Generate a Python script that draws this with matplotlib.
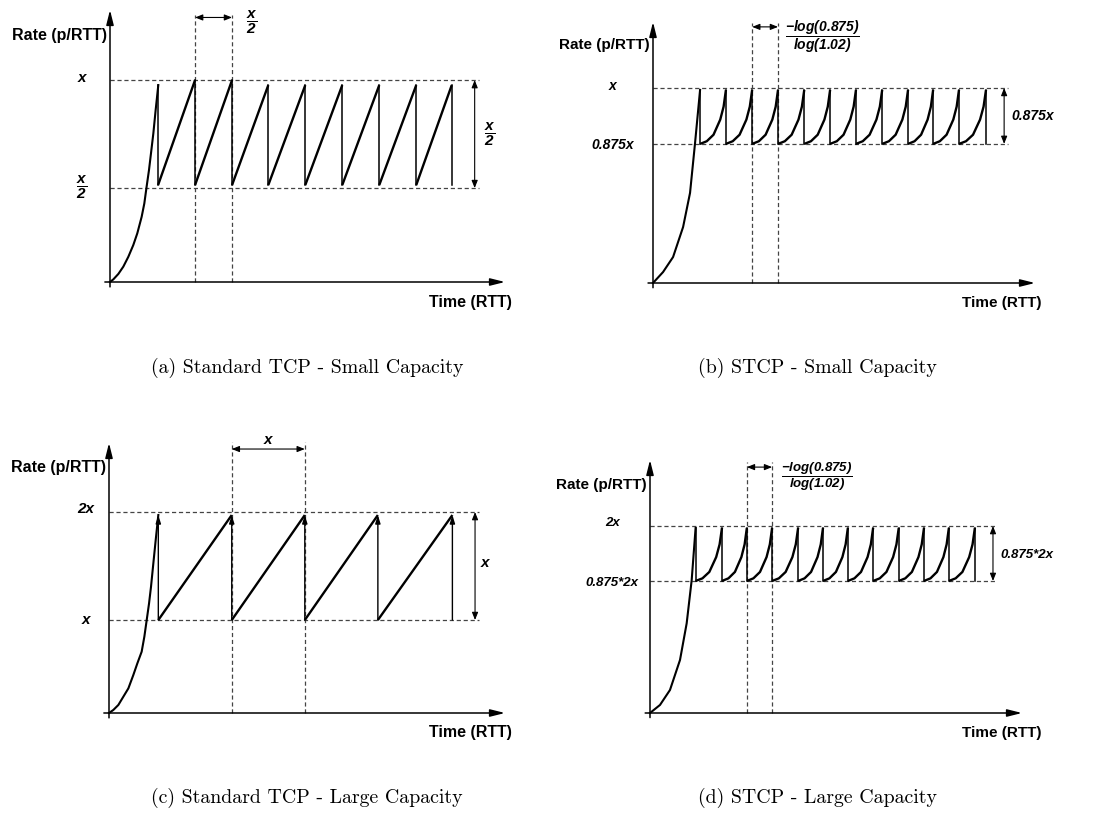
import matplotlib
matplotlib.use("Agg")
import matplotlib.pyplot as plt

plt.rcParams["font.family"] = "sans-serif"
plt.rcParams["font.sans-serif"] = ["Liberation Sans", "DejaVu Sans"]
plt.rcParams["mathtext.fontset"] = "custom"
plt.rcParams["mathtext.rm"] = "Liberation Sans:bold:italic"
plt.rcParams["mathtext.it"] = "Liberation Sans:bold:italic"
plt.rcParams["mathtext.bf"] = "Liberation Sans:bold:italic"
plt.rcParams["lines.scale_dashes"] = False

# time in RTT-like units, rate in units of x (schematic)
# (a) Standard TCP - small capacity
A_SS_T = [0, 0.045, 0.113, 0.180, 0.248, 0.315, 0.369, 0.428, 0.464, 0.495, 0.527, 0.554, 0.586, 0.617, 0.653]
A_SS_R = [0, 0.013, 0.040, 0.076, 0.125, 0.183, 0.241, 0.323, 0.389, 0.472, 0.554, 0.637, 0.736, 0.851, 0.975]
A_DROP_T = [0.65, 1.15, 1.65, 2.14, 2.64, 3.14, 3.64, 4.14, 4.62]
A_PEAK_R = [0.975, 1.0, 1.0, 0.975, 0.975, 0.975, 0.975, 0.975, 0.975]
A_TROUGH = 0.48
A_LEVELS = [1.0, 0.465]
A_MARK_T = [1.15, 1.65]

# (b) STCP - small capacity
B_SS_T = [0, 2.6, 5.2, 7.8, 9.6, 10.9, 12.2]
B_SS_R = [0, 0.056, 0.133, 0.287, 0.462, 0.718, 0.99]
B_DROP_T = [12.2, 18.9, 25.7, 32.4, 39.2, 45.9, 52.6, 59.4, 66.1, 72.6, 79.3, 86.3]
B_PEAK_R = [0.99] * 12
B_TROUGH = 0.713
B_LEVELS = [1.0, 0.713]
B_MARK_T = [25.7, 32.4]

# (c) Standard TCP - large capacity
C_SS_T = [0, 0.059, 0.128, 0.196, 0.265, 0.333, 0.388, 0.447, 0.484, 0.516, 0.548, 0.575, 0.607, 0.639, 0.675]
C_SS_R = [0, 0.03, 0.08, 0.162, 0.245, 0.378, 0.494, 0.61, 0.76, 0.925, 1.09, 1.257, 1.49, 1.72, 1.97]
C_DROP_T = [0.675, 1.68, 2.68, 3.68, 4.70]
C_PEAK_R = [1.97, 1.97, 1.97, 1.97, 1.97]
C_TROUGH = 0.925
C_LEVELS = [2.0, 0.925]
C_MARK_T = [1.68, 2.68]

# (d) STCP - large capacity
D_SS_T = [0, 2.65, 5.3, 7.96, 9.73, 11.06, 12.1]
D_SS_R = [0, 0.086, 0.246, 0.567, 0.959, 1.422, 1.98]
D_DROP_T = [12.1, 19.1, 25.7, 32.4, 39.3, 45.9, 52.5, 59.2, 66.0, 72.7, 79.3, 86.2]
D_PEAK_R = [1.98] * 12
D_TROUGH = 1.412
D_LEVELS = [2.0, 1.412]
D_MARK_T = [25.7, 32.4]

# shape of one tooth (fraction of period, fraction of height)
LINEAR_U = [0, 1]
LINEAR_V = [0, 1]
STCP_U = [0, 0.26, 0.52, 0.78, 0.91, 1.0]
STCP_V = [0, 0.05, 0.17, 0.45, 0.69, 1.0]

FRAC_X2 = r"$\dfrac{x}{2}$"
FRAC_LOG = r"$\dfrac{-log(0.875)}{log(1.02)}$"

A_TICKS = ["x", FRAC_X2]
B_TICKS = ["x", "0.875x"]
C_TICKS = ["2x", "x"]
D_TICKS = ["2x", "0.875*2x"]

CAPTIONS = [
    "(a) Standard TCP - Small Capacity",
    "(b) STCP - Small Capacity",
    "(c) Standard TCP - Large Capacity",
    "(d) STCP - Large Capacity",
]

W, H = 1094, 817
DASH = dict(color="#444444", lw=0.9, dashes=(3.0, 2.0))


def make_axes(fig, left, top, right, bottom, xmax, ymax):
    ax = fig.add_axes([left / W, 1 - bottom / H, (right - left) / W, (bottom - top) / H])
    ax.set_xlim(0, xmax)
    ax.set_ylim(0, ymax)
    ax.set_axis_off()
    return ax


def arrow(ax, p0, p1, style, scale, lw):
    ax.annotate("", xy=p1, xytext=p0, annotation_clip=False,
                arrowprops=dict(arrowstyle=style, mutation_scale=scale, lw=lw,
                                color="black", shrinkA=0, shrinkB=0))


def draw_panel(ax, p):
    xmax, ymax = ax.get_xlim()[1], ax.get_ylim()[1]

    # axes with arrow heads
    arrow(ax, (0, -0.018 * ymax), (0, ymax), "-|>,head_length=0.8,head_width=0.2", 11, 1.1)
    arrow(ax, (-0.013 * xmax, 0), (xmax, 0), "-|>,head_length=0.8,head_width=0.2", 11, 1.1)

    # reference levels
    for lvl in p["levels"]:
        ax.plot([0, p["level_end"]], [lvl, lvl], clip_on=False, **DASH)
    for t in p["mark_t"]:
        ax.plot([t, t], [0, p["mark_top"]], clip_on=False, **DASH)

    # slow start
    ax.plot(p["ss_t"], p["ss_r"], color="black", lw=1.5, clip_on=False)

    # teeth
    drops, peaks, trough = p["drop_t"], p["peak_r"], p["trough"]
    for k, t in enumerate(drops):
        if p.get("drop_arrows"):
            arrow(ax, (t, trough), (t, peaks[k]), "-|>,head_length=0.8,head_width=0.25", 6, 1.0)
        else:
            ax.plot([t, t], [peaks[k], trough], color="black", lw=1.1)
        if k + 1 < len(drops):
            t1 = drops[k + 1]
            xs = [t + u * (t1 - t) for u in p["shape_u"]]
            ys = [trough + v * (peaks[k + 1] - trough) for v in p["shape_v"]]
            ax.plot(xs, ys, color="black", lw=1.7, solid_capstyle="butt")

    # dimension arrows
    dim_style = "<|-|>,head_length=0.5,head_width=0.2"
    arrow(ax, (p["mark_t"][0], p["mark_arrow"]), (p["mark_t"][1], p["mark_arrow"]), dim_style, 9, 0.8)
    arrow(ax, (p["dim_t"], p["levels"][1]), (p["dim_t"], p["levels"][0]), dim_style, 9, 0.8)

    bi = dict(fontweight="bold", fontstyle="italic", ha="center", va="center")
    ax.text(p["mark_label"][0], p["mark_label"][1], p["mark_text"], fontsize=p["frac_fs"], clip_on=False, **bi)
    ax.text(p["dim_label"][0], p["dim_label"][1], p["dim_text"], fontsize=p["tick_fs"], clip_on=False, **bi)

    for lvl, txt, (dx, dy) in zip(p["levels"], p["ticks"], p["tick_off"]):
        ax.annotate(txt, xy=(0, lvl), xytext=(dx, dy), textcoords="offset pixels",
                    fontsize=p["tick_fs"], annotation_clip=False, **bi)

    ax.annotate("Rate (p/RTT)", xy=(0, p["rate_y"]), xytext=(-3, 0), textcoords="offset pixels",
                ha="right", va="center", fontweight="bold", fontsize=p["label_fs"], annotation_clip=False)
    ax.annotate("Time (RTT)", xy=(xmax, 0), xytext=(p["time_dx"], -20), textcoords="offset pixels",
                ha="right", va="center", fontweight="bold", fontsize=p["label_fs"], annotation_clip=False)


fig = plt.figure(figsize=(W / 100, H / 100), dpi=100)
fig.patch.set_facecolor("white")

panels = [
    (make_axes(fig, 110, 10, 505, 282, 5.34, 1.347), dict(
        ss_t=A_SS_T, ss_r=A_SS_R, drop_t=A_DROP_T, peak_r=A_PEAK_R, trough=A_TROUGH,
        levels=A_LEVELS, mark_t=A_MARK_T, shape_u=LINEAR_U, shape_v=LINEAR_V,
        level_end=4.99, mark_top=1.32, mark_arrow=1.31, dim_t=4.93,
        mark_label=(1.92, 1.285), mark_text=FRAC_X2, dim_label=(5.14, 0.73), dim_text=FRAC_X2,
        ticks=A_TICKS, tick_off=[(-28, 2), (-28, 0)],
        rate_y=1.223, time_dx=7, label_fs=11.5, tick_fs=11, frac_fs=11)),
    (make_axes(fig, 653, 22, 1035, 283, 99.0, 1.338), dict(
        ss_t=B_SS_T, ss_r=B_SS_R, drop_t=B_DROP_T, peak_r=B_PEAK_R, trough=B_TROUGH,
        levels=B_LEVELS, mark_t=B_MARK_T, shape_u=STCP_U, shape_v=STCP_V,
        level_end=92.0, mark_top=1.333, mark_arrow=1.313, dim_t=91.0,
        mark_label=(43.8, 1.262), mark_text=FRAC_LOG, dim_label=(98.5, 0.856), dim_text="0.875x",
        ticks=B_TICKS, tick_off=[(-41, 2), (-40, -1)],
        rate_y=1.22, time_dx=7, label_fs=11, tick_fs=10, frac_fs=10)),
    (make_axes(fig, 109, 443, 505, 713, 5.42, 2.687), dict(
        ss_t=C_SS_T, ss_r=C_SS_R, drop_t=C_DROP_T, peak_r=C_PEAK_R, trough=C_TROUGH,
        levels=C_LEVELS, mark_t=C_MARK_T, shape_u=LINEAR_U, shape_v=LINEAR_V, drop_arrows=True,
        level_end=5.07, mark_top=2.697, mark_arrow=2.627, dim_t=5.01,
        mark_label=(2.18, 2.716), mark_text="x", dim_label=(5.15, 1.49), dim_text="x",
        ticks=C_TICKS, tick_off=[(-23, 3), (-23, 0)],
        rate_y=2.44, time_dx=7, label_fs=11.5, tick_fs=11, frac_fs=11)),
    (make_axes(fig, 650, 460, 1022, 713, 98.7, 2.706), dict(
        ss_t=D_SS_T, ss_r=D_SS_R, drop_t=D_DROP_T, peak_r=D_PEAK_R, trough=D_TROUGH,
        levels=D_LEVELS, mark_t=D_MARK_T, shape_u=STCP_U, shape_v=STCP_V,
        level_end=92.0, mark_top=2.684, mark_arrow=2.63, dim_t=91.0,
        mark_label=(44.3, 2.52), mark_text=FRAC_LOG, dim_label=(100.0, 1.69), dim_text="0.875*2x",
        ticks=D_TICKS, tick_off=[(-37, 3), (-38, -2)],
        rate_y=2.44, time_dx=20, label_fs=11, tick_fs=9.5, frac_fs=9.5)),
]

for ax, p in panels:
    draw_panel(ax, p)

caption_pos = [(307, 368), (817, 368), (307, 798), (817, 798)]
for txt, (cx, cy) in zip(CAPTIONS, caption_pos):
    fig.text(cx / W, 1 - cy / H, txt, family="cmr10", fontsize=14.3, ha="center", va="center")

fig.savefig("out.png", dpi=100)
plt.close(fig)
